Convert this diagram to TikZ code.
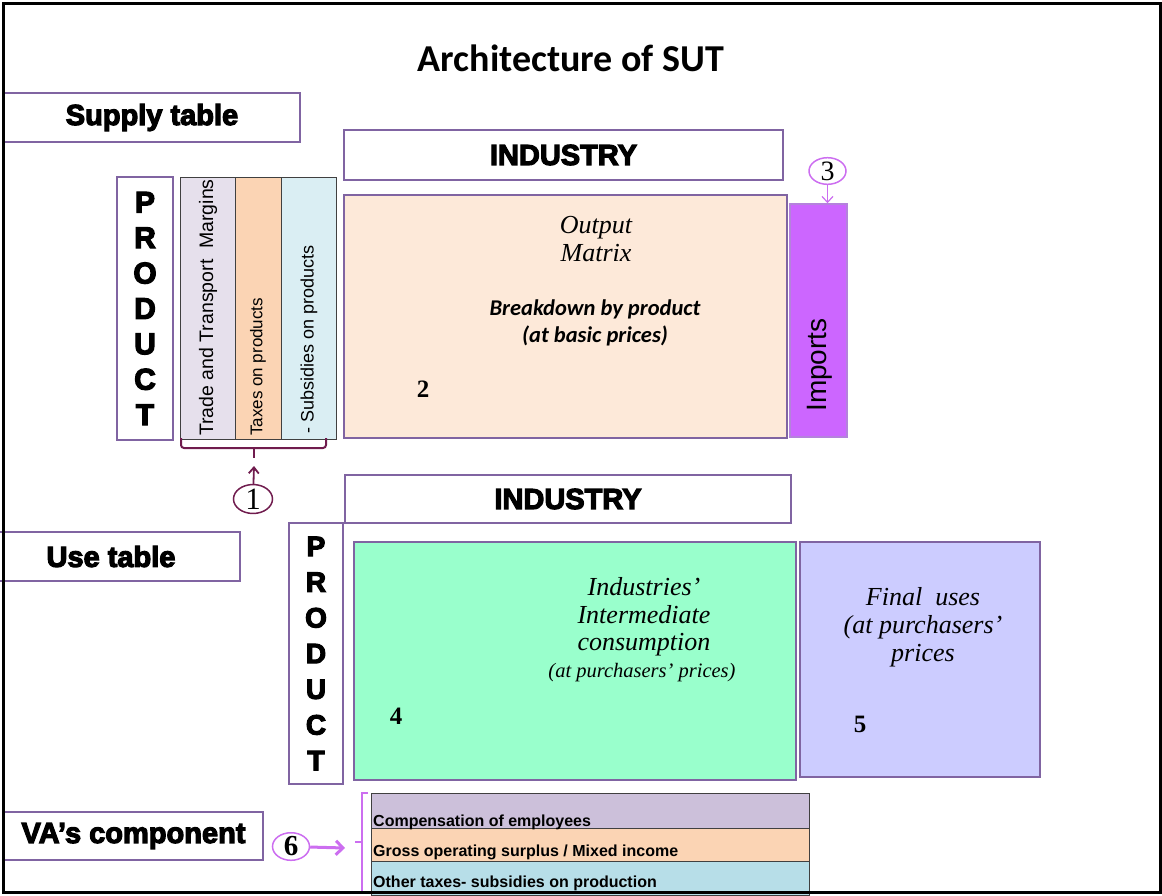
\documentclass[tikz,border=0pt]{standalone}
\usepackage{fontspec}
\setmainfont{Liberation Serif}
\setsansfont{Liberation Sans}
\newfontfamily\carlito{Carlito}
\newfontfamily\heavyfont[FakeBold=4]{Liberation Sans Bold}
\usetikzlibrary{shapes.geometric,arrows.meta}

\definecolor{boxpurple}{RGB}{128,100,162}
\definecolor{outputfill}{RGB}{253,233,217}
\definecolor{importfill}{RGB}{204,102,255}
\definecolor{importline}{RGB}{180,130,220}
\definecolor{tagline}{RGB}{204,110,240}
\definecolor{marginfill}{RGB}{230,224,236}
\definecolor{taxfill}{RGB}{251,212,180}
\definecolor{subsfill}{RGB}{218,238,243}
\definecolor{interfill}{RGB}{153,255,204}
\definecolor{finalfill}{RGB}{204,204,255}
\definecolor{compfill}{RGB}{204,192,218}
\definecolor{otherfill}{RGB}{183,222,232}
\definecolor{bracered}{RGB}{112,28,78}

\tikzset{
	tablebox/.style={draw=boxpurple, line width=2.5pt, inner sep=0pt},
	colbox/.style={draw=black!75, line width=0.8pt, inner sep=0pt, minimum height=262},
	rowbox/.style={draw=black!75, line width=0.8pt, inner sep=0pt, minimum width=438},
	headtext/.style={font=\heavyfont\fontsize{29}{30}\selectfont},
	coltext/.style={rotate=90, anchor=west, inner sep=0pt},
	serifit/.style={font=\itshape\fontsize{26}{28}\selectfont, align=center, inner sep=0pt},
	numtext/.style={font=\bfseries\fontsize{25}{26}\selectfont, inner sep=0pt},
	vatext/.style={anchor=base west, inner sep=0pt, font=\sffamily\bfseries\fontsize{16}{18}\selectfont},
	tag/.style={ellipse, draw, line width=1.5pt, inner sep=0pt, minimum width=37, minimum height=25}
}

\begin{document}
\begin{tikzpicture}[x=1pt, y=-1pt]
	\useasboundingbox (0,0) rectangle (1162,895);

	% title
	\node[font=\carlito\bfseries\fontsize{38}{42}\selectfont] (title) at (571,58) {Architecture of SUT};

	% supply table
	\node[tablebox, headtext, minimum width=296, minimum height=49] (supply) at (152,117.5) {Supply table};
	\node[tablebox, headtext, minimum width=439, minimum height=50] (ind1) at (563.5,155) {INDUSTRY};
	\node[tablebox, align=center, minimum width=56, minimum height=263,
		font=\heavyfont\fontsize{30}{35.4}\selectfont] (prod1) at (145,308.5) {P\\R\\O\\D\\U\\C\\T};

	\node[colbox, fill=marginfill, minimum width=55] (col1) at (207.5,308) {};
	\node[colbox, fill=taxfill, minimum width=46] (col2) at (258,308) {};
	\node[colbox, fill=subsfill, minimum width=55] (col3) at (308.5,308) {};
	\node[coltext, font=\sffamily\fontsize{19.5}{20}\selectfont] (margins) at (208,436) {Trade and Transport\ \ Margins};
	\node[coltext, font=\sffamily\fontsize{17}{20}\selectfont] (taxes) at (258,436) {Taxes on products};
	\node[coltext, font=\sffamily\fontsize{18}{20}\selectfont] (subsidies) at (309,434) {- Subsidies on products};

	% brace under the three columns
	\draw[bracered, line width=2pt, rounded corners=3pt] (181,438) |- (326,448) -- (326,438);
	\draw[bracered, line width=2pt] (254,448) -- (254,458);
	\coordinate (bracetip) at (254,466);
	\node[tag, draw=bracered, font=\fontsize{31}{32}\selectfont, minimum width=39, minimum height=28] (tag1) at (253,499) {1};
	\draw[bracered, line width=1.8pt, -{Straight Barb[length=6pt, width=10pt]}] (tag1) -- (bracetip);

	\node[tablebox, fill=outputfill, minimum width=443, minimum height=243] (output) at (565.5,316.5) {};
	\node[serifit] (outtitle) at (596,239) {Output\\Matrix};
	\node[font=\carlito\bfseries\itshape\fontsize{22.5}{27}\selectfont, align=center, inner sep=0pt] (breakdown) at (595,323) {Breakdown by product\\(at basic prices)};
	\node[numtext] (n2) at (423,389) {2};

	\node[draw=importline, fill=importfill, line width=1.5pt, inner sep=0pt, minimum width=57, minimum height=233] (imports) at (818.5,320.5) {};
	\node[rotate=90, inner sep=0pt, font=\sffamily\fontsize{28}{30}\selectfont] (importstext) at (820,365) {Imports};
	\node[tag, draw=tagline, font=\fontsize{28}{29}\selectfont] (tag3) at (827.5,171) {3};
	\draw[tagline, line width=1.2pt, -{Straight Barb[length=6pt, width=11pt]}] (tag3) -- (tag3.south |- imports.north);

	% use table
	\node[tablebox, headtext, minimum width=446, minimum height=48] (ind2) at (568,499) {INDUSTRY};
	\node[tablebox, headtext, minimum width=258, minimum height=49] (use) at (111,556.5) {Use table};
	\node[tablebox, align=center, minimum width=54, minimum height=261,
		font=\heavyfont\fontsize{28}{35.7}\selectfont] (prod2) at (316,653.5) {P\\R\\O\\D\\U\\C\\T};

	\node[tablebox, fill=interfill, minimum width=442, minimum height=238] (inter) at (575,661) {};
	\node[serifit, font=\itshape\fontsize{26}{27.5}\selectfont] (intertitle) at (644,617) {Industries'\\Intermediate\\consumption};
	\node[serifit, font=\itshape\fontsize{20.5}{22}\selectfont] (interprice) at (642,673) {(at purchasers' prices)};
	\node[numtext] (n4) at (396,716) {4};

	\node[tablebox, fill=finalfill, minimum width=240, minimum height=235] (final) at (920,659.5) {};
	\node[serifit] (finaltitle) at (923,627) {Final\ \ uses\\(at purchasers'\\prices};
	\node[numtext] (n5) at (860,724) {5};

	% value added rows
	\node[tablebox, headtext, minimum width=259, minimum height=48] (va) at (133.5,836) {VA’s component};
	\node[rowbox, fill=compfill, minimum height=35] (comp) at (590,810.5) {};
	\node[rowbox, fill=taxfill, minimum height=33] (gos) at (590,844.5) {};
	\node[rowbox, fill=otherfill, minimum height=34] (other) at (590,878) {};
	\node[vatext] (comptext) at (373,826) {Compensation of employees};
	\node[vatext] (gostext) at (373,856) {Gross operating surplus / Mixed income};
	\node[vatext] (othertext) at (373,887) {Other taxes- subsidies on production};

	\draw[tagline, line width=1.2pt] (368,793) -- (362,793) -- (362,891);
	\draw[tagline, line width=1.2pt] (362,842) -- (355,842);
	\coordinate (vatip) at (345,848);
	\node[tag, draw=tagline, font=\bfseries\fontsize{29}{30}\selectfont] (tag6) at (291,846.5) {6};
	\draw[tagline, line width=3pt, -{Straight Barb[length=7pt, width=14pt]}] (tag6) -- (vatip);

	% outer frame
	\draw[line width=3pt] (3,3) rectangle (1160.5,892.5);
\end{tikzpicture}
\end{document}
